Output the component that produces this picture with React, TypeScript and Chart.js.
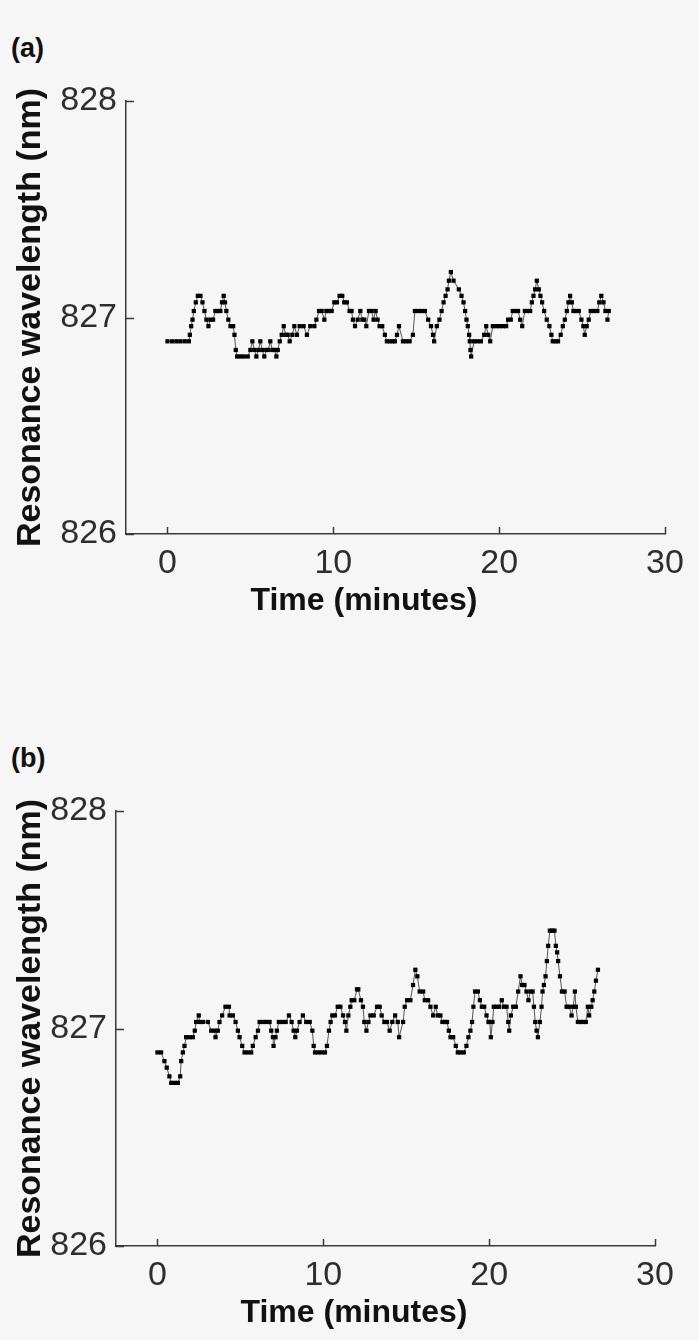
import React, { useEffect, useRef } from 'react';
import { Chart, registerables } from 'chart.js';

Chart.register(...registerables);

const xTickValues = [0, 10, 20, 30];
const yTickValues = [826, 827, 828];
const xAxisTitle = 'Time (minutes)';
const yAxisTitle = 'Resonance wavelength (nm)';
const panelLabels = ['(a)', '(b)'];

const timeA = [
  0.0, 0.28, 0.54, 0.78, 1.04, 1.29, 1.35, 1.43, 1.51, 1.59, 1.71, 1.83, 1.99, 2.11, 2.23, 2.35, 2.47, 2.59, 2.75, 2.89,
  3.03, 3.19, 3.29, 3.39, 3.47, 3.55, 3.67, 3.8, 3.96, 4.04, 4.12, 4.2, 4.4, 4.6, 4.84, 5.0, 5.12, 5.24, 5.36, 5.48,
  5.6, 5.72, 5.84, 5.96, 6.08, 6.2, 6.33, 6.45, 6.57, 6.65, 6.77, 6.89, 7.01, 7.13, 7.25, 7.37, 7.53, 7.65, 7.81, 7.97,
  8.21, 8.41, 8.61, 8.86, 8.98, 9.14, 9.3, 9.46, 9.58, 9.74, 9.9, 10.06, 10.22, 10.38, 10.54, 10.66, 10.82, 10.98, 11.1, 11.18,
  11.31, 11.47, 11.63, 11.75, 11.87, 11.99, 12.15, 12.31, 12.43, 12.55, 12.67, 12.79, 12.95, 13.11, 13.23, 13.39, 13.55, 13.71, 13.84, 13.96,
  14.2, 14.4, 14.6, 14.8, 14.92, 15.12, 15.32, 15.52, 15.72, 15.89, 16.01, 16.08, 16.24, 16.4, 16.53, 16.65, 16.77, 16.89, 16.97, 17.09,
  17.25, 17.57, 17.73, 17.85, 17.95, 18.03, 18.11, 18.19, 18.23, 18.27, 18.31, 18.49, 18.69, 18.9, 19.1, 19.22, 19.34, 19.46, 19.62, 19.82,
  20.02, 20.22, 20.42, 20.54, 20.7, 20.82, 20.98, 21.14, 21.27, 21.39, 21.55, 21.71, 21.87, 21.97, 22.07, 22.17, 22.27, 22.39, 22.49, 22.59,
  22.71, 22.87, 23.03, 23.15, 23.23, 23.39, 23.55, 23.71, 23.84, 23.96, 24.08, 24.18, 24.28, 24.38, 24.48, 24.64, 24.8, 24.96, 25.08, 25.16,
  25.28, 25.4, 25.52, 25.72, 25.92, 26.04, 26.16, 26.29, 26.41, 26.61, 26.53,
];
const waveA = [
  826.89, 826.89, 826.89, 826.89, 826.89, 826.89, 826.92, 826.96, 826.99, 827.03, 827.07, 827.1, 827.1, 827.07, 827.03, 826.99, 826.96, 826.99, 826.99, 827.03,
  827.03, 827.03, 827.07, 827.1, 827.07, 827.03, 826.99, 826.96, 826.96, 826.92, 826.85, 826.82, 826.82, 826.82, 826.82, 826.85, 826.89, 826.85, 826.82, 826.85,
  826.89, 826.85, 826.82, 826.85, 826.85, 826.89, 826.85, 826.85, 826.82, 826.85, 826.89, 826.92, 826.96, 826.92, 826.92, 826.89, 826.92, 826.96, 826.92, 826.96,
  826.96, 826.92, 826.96, 826.96, 826.99, 827.03, 827.03, 826.99, 827.03, 827.03, 827.03, 827.07, 827.07, 827.1, 827.1, 827.07, 827.07, 827.03, 827.03, 826.99,
  826.96, 826.99, 827.03, 826.99, 826.99, 826.96, 827.03, 827.03, 826.99, 827.03, 826.99, 826.96, 826.96, 826.92, 826.89, 826.89, 826.89, 826.89, 826.92, 826.96,
  826.89, 826.89, 826.89, 826.92, 827.03, 827.03, 827.03, 827.03, 826.99, 826.96, 826.92, 826.89, 826.96, 826.99, 827.03, 827.07, 827.1, 827.13, 827.17, 827.21,
  827.17, 827.13, 827.1, 827.07, 827.03, 826.99, 826.96, 826.92, 826.89, 826.85, 826.82, 826.89, 826.89, 826.89, 826.92, 826.96, 826.92, 826.89, 826.96, 826.96,
  826.96, 826.96, 826.96, 826.99, 826.99, 827.03, 827.03, 827.03, 826.99, 826.96, 827.03, 827.03, 827.03, 827.07, 827.1, 827.13, 827.17, 827.13, 827.1, 827.07,
  827.03, 826.99, 826.96, 826.92, 826.89, 826.89, 826.89, 826.92, 826.96, 826.99, 827.03, 827.07, 827.1, 827.07, 827.03, 827.03, 827.03, 826.99, 826.96, 826.92,
  826.96, 826.99, 827.03, 827.03, 827.03, 827.07, 827.1, 827.07, 827.03, 827.03, 826.99,
];

const timeB = [
  0.0, 0.22, 0.42, 0.56, 0.72, 0.83, 1.03, 1.23, 1.37, 1.43, 1.53, 1.63, 1.73, 1.93, 2.13, 2.25, 2.33, 2.49, 2.54, 2.74,
  3.04, 3.24, 3.44, 3.5, 3.64, 3.74, 3.9, 4.1, 4.31, 4.35, 4.55, 4.71, 4.85, 4.95, 5.11, 5.25, 5.45, 5.65, 5.75, 5.92,
  6.06, 6.16, 6.36, 6.56, 6.76, 6.86, 6.96, 7.0, 7.12, 7.2, 7.32, 7.53, 7.73, 7.93, 8.09, 8.21, 8.31, 8.41, 8.57, 8.77,
  8.97, 9.18, 9.34, 9.42, 9.5, 9.7, 9.9, 10.1, 10.22, 10.34, 10.44, 10.54, 10.7, 10.87, 11.03, 11.19, 11.31, 11.39, 11.51, 11.63,
  11.71, 11.87, 12.03, 12.11, 12.27, 12.39, 12.47, 12.6, 12.72, 12.84, 13.04, 13.24, 13.4, 13.52, 13.68, 13.84, 14.0, 14.16, 14.33, 14.49,
  14.57, 14.81, 14.91, 15.05, 15.25, 15.41, 15.55, 15.67, 15.81, 16.02, 16.12, 16.32, 16.46, 16.62, 16.78, 16.9, 17.06, 17.18, 17.34, 17.46,
  17.57, 17.67, 17.83, 17.99, 18.11, 18.27, 18.47, 18.63, 18.75, 18.87, 18.97, 19.05, 19.15, 19.32, 19.44, 19.56, 19.7, 19.84, 19.96, 20.04,
  20.1, 20.2, 20.28, 20.44, 20.6, 20.76, 20.89, 21.05, 21.15, 21.21, 21.31, 21.45, 21.61, 21.75, 21.89, 21.99, 22.13, 22.25, 22.37, 22.49,
  22.62, 22.7, 22.78, 22.86, 22.94, 23.06, 23.16, 23.22, 23.3, 23.4, 23.48, 23.56, 23.66, 23.8, 23.94, 24.02, 24.1, 24.16, 24.27, 24.39,
  24.55, 24.67, 24.83, 24.97, 25.07, 25.17, 25.23, 25.35, 25.51, 25.67, 25.83, 25.95, 26.03, 26.16, 26.24, 26.34, 26.44, 26.56,
];
const waveB = [
  826.89, 826.89, 826.85, 826.82, 826.78, 826.75, 826.75, 826.75, 826.78, 826.85, 826.89, 826.92, 826.96, 826.96, 826.96, 826.99, 827.03, 827.06, 827.03, 827.03,
  827.03, 826.99, 826.99, 826.96, 826.99, 827.03, 827.06, 827.1, 827.1, 827.06, 827.06, 827.03, 826.99, 826.96, 826.92, 826.89, 826.89, 826.89, 826.92, 826.96,
  826.99, 827.03, 827.03, 827.03, 827.03, 826.99, 826.96, 826.92, 826.96, 826.99, 827.03, 827.03, 827.03, 827.06, 827.03, 826.99, 826.96, 826.99, 827.03, 827.06,
  827.03, 827.03, 826.99, 826.92, 826.89, 826.89, 826.89, 826.89, 826.92, 826.99, 827.03, 827.06, 827.06, 827.1, 827.1, 827.06, 827.03, 826.99, 827.06, 827.1,
  827.13, 827.13, 827.18, 827.18, 827.13, 827.1, 827.03, 826.99, 827.03, 827.06, 827.06, 827.1, 827.1, 827.06, 827.03, 827.03, 826.99, 827.03, 827.06, 827.03,
  826.96, 827.03, 827.1, 827.13, 827.13, 827.2, 827.27, 827.24, 827.17, 827.17, 827.13, 827.13, 827.1, 827.06, 827.1, 827.06, 827.06, 827.03, 827.03, 827.03,
  826.99, 826.96, 826.96, 826.92, 826.89, 826.89, 826.89, 826.92, 826.96, 826.99, 827.03, 827.1, 827.17, 827.17, 827.13, 827.1, 827.1, 827.06, 827.03, 827.03,
  826.96, 827.03, 827.1, 827.1, 827.1, 827.13, 827.1, 827.1, 827.03, 826.99, 827.06, 827.1, 827.1, 827.17, 827.24, 827.2, 827.2, 827.17, 827.13, 827.17,
  827.17, 827.1, 827.03, 826.99, 826.96, 827.03, 827.1, 827.17, 827.2, 827.24, 827.31, 827.38, 827.45, 827.45, 827.45, 827.38, 827.35, 827.31, 827.24, 827.17,
  827.17, 827.1, 827.1, 827.06, 827.1, 827.17, 827.1, 827.03, 827.03, 827.03, 827.03, 827.1, 827.06, 827.1, 827.13, 827.17, 827.22, 827.27,
];

const FONT = '"Liberation Sans", Arial, Helvetica, sans-serif';
const BG = '#f6f6f6';
const AXIS = '#3a3a3a';

const inwardTicks = {
  id: 'inwardTicks',
  afterDraw(chart: any) {
    const { ctx, chartArea, scales } = chart;
    ctx.save();
    ctx.strokeStyle = AXIS;
    ctx.lineWidth = 1.5;
    ctx.beginPath();
    xTickValues.forEach((v) => {
      const px = Math.round(scales.x.getPixelForValue(v)) + 0.5;
      ctx.moveTo(px, chartArea.bottom);
      ctx.lineTo(px, chartArea.bottom - 7);
    });
    yTickValues.forEach((v) => {
      const py = Math.round(scales.y.getPixelForValue(v)) + 0.5;
      ctx.moveTo(chartArea.left, py);
      ctx.lineTo(chartArea.left + 8, py);
    });
    ctx.stroke();
    ctx.restore();
  },
};

type PanelProps = {
  times: number[];
  values: number[];
  top: number;
  height: number;
  areaLeft: number;
  areaRight: number;
  areaTop: number;
  areaBottom: number;
};

function Panel(p: PanelProps) {
  const ref = useRef<HTMLCanvasElement | null>(null);
  useEffect(() => {
    if (!ref.current) return;
    const data = p.times.map((t, i) => ({ x: t, y: p.values[i] }));
    const chart = new Chart(ref.current, {
      type: 'scatter',
      data: {
        datasets: [
          {
            data,
            showLine: true,
            borderColor: '#555',
            borderWidth: 1,
            pointStyle: 'rect',
            pointRadius: 3,
            pointBorderWidth: 0,
            pointBackgroundColor: '#000',
            backgroundColor: '#000',
            tension: 0,
          },
        ],
      },
      options: {
        animation: false,
        responsive: false,
        devicePixelRatio: 1,
        events: [],
        layout: {
          padding: { left: 0, right: 699 - p.areaRight, top: p.areaTop, bottom: 0 },
        },
        plugins: { legend: { display: false }, tooltip: { enabled: false } },
        scales: {
          x: {
            type: 'linear',
            min: -2.5,
            max: 30,
            afterBuildTicks: (s: any) => {
              s.ticks = xTickValues.map((v) => ({ value: v }));
            },
            afterFit: (s: any) => {
              s.height = p.height - p.areaBottom;
            },
            grid: { display: false, drawTicks: false },
            border: { display: true, color: AXIS, width: 1.5 },
            ticks: {
              color: '#2e2e2e',
              font: { family: FONT, size: 34 },
              padding: 9,
              maxRotation: 0,
              autoSkip: false,
              callback: (v: any) => String(v),
            },
            title: { display: false },
          },
          y: {
            type: 'linear',
            min: 826,
            max: 828,
            afterBuildTicks: (s: any) => {
              s.ticks = yTickValues.map((v) => ({ value: v }));
            },
            afterFit: (s: any) => {
              s.width = p.areaLeft;
            },
            grid: { display: false, drawTicks: false },
            border: { display: true, color: AXIS, width: 1.5 },
            ticks: {
              color: '#2e2e2e',
              font: { family: FONT, size: 34 },
              padding: 9,
              autoSkip: false,
              callback: (v: any) => String(v),
            },
            title: {
              display: true,
              text: yAxisTitle,
              color: '#111',
              font: { family: FONT, size: 34, weight: 'bold' },
              padding: { top: 10, bottom: 0 },
            },
          },
        },
      },
      plugins: [inwardTicks],
    } as any);
    return () => chart.destroy();
  }, []);
  return (
    <canvas
      ref={ref}
      width={699}
      height={p.height}
      style={{ position: 'absolute', left: 0, top: p.top, width: 699, height: p.height }}
    />
  );
}

export default function App() {
  const labelStyle: React.CSSProperties = {
    position: 'absolute',
    left: 11,
    fontFamily: FONT,
    fontWeight: 'bold',
    fontSize: 27,
    color: '#111',
    lineHeight: '34px',
  };
  const xTitleStyle: React.CSSProperties = {
    position: 'absolute',
    width: 300,
    textAlign: 'center',
    fontFamily: FONT,
    fontWeight: 'bold',
    fontSize: 32,
    lineHeight: '40px',
    color: '#111',
    whiteSpace: 'nowrap',
  };
  return (
    <div style={{ position: 'absolute', left: 0, top: 0, width: 699, height: 1340, background: BG, overflow: 'hidden' }}>
      <div style={{ ...labelStyle, top: 31 }}>{panelLabels[0]}</div>
      <Panel times={timeA} values={waveA} top={0} height={650} areaLeft={126} areaRight={665} areaTop={101} areaBottom={534} />
      <div style={{ ...xTitleStyle, left: 364 - 150, top: 579 }}>{xAxisTitle}</div>
      <div style={{ ...labelStyle, top: 741 }}>{panelLabels[1]}</div>
      <Panel times={timeB} values={waveB} top={650} height={690} areaLeft={116} areaRight={655} areaTop={161} areaBottom={596} />
      <div style={{ ...xTitleStyle, left: 354 - 150, top: 1291 }}>{xAxisTitle}</div>
    </div>
  );
}
